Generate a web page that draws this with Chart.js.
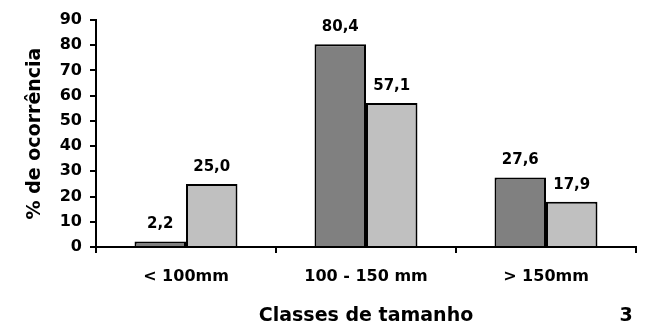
<!DOCTYPE html>
<html>
<head>
<meta charset="utf-8">
<script src="https://cdn.jsdelivr.net/npm/chart.js@4"></script>
<style>
  html, body { margin: 0; padding: 0; background: #fff; }
  #wrap { width: 647px; height: 327px; }
</style>
</head>
<body>
<div id="wrap"><canvas id="sizeChart" width="647" height="327"></canvas></div>
<script>
const classes = ['< 100mm', '100 - 150 mm', '> 150mm'];
const seriesDark = [2.2, 80.4, 27.6];
const seriesLight = [25.0, 57.1, 17.9];
const yTicks = [0, 10, 20, 30, 40, 50, 60, 70, 80, 90];

Chart.defaults.font.family = "'DejaVu Sans', sans-serif";
Chart.defaults.font.weight = 'bold';
Chart.defaults.color = '#000';

// value labels above bars, decimal comma
const valueLabels = {
    id: 'valueLabels',
    afterDatasetsDraw(chart) {
        const ctx = chart.ctx;
        ctx.save();
        ctx.font = "bold 15px 'DejaVu Sans', sans-serif";
        ctx.fillStyle = '#000';
        ctx.textAlign = 'center';
        ctx.textBaseline = 'alphabetic';
        chart.data.datasets.forEach((ds, i) => {
            chart.getDatasetMeta(i).data.forEach((bar, j) => {
                const txt = ds.data[j].toFixed(1).replace('.', ',');
                ctx.fillText(txt, bar.x, bar.y - 13);
            });
        });
        ctx.restore();
    }
};

// figure number at bottom right
const figNumber = {
    id: 'figNumber',
    afterDraw(chart) {
        const ctx = chart.ctx;
        ctx.save();
        ctx.font = "bold 19px 'DejaVu Sans', sans-serif";
        ctx.fillStyle = '#000';
        ctx.textAlign = 'center';
        ctx.textBaseline = 'middle';
        ctx.fillText('3', 626, 316.5);
        ctx.restore();
    }
};

const sizeCtx = document.getElementById('sizeChart').getContext('2d');
new Chart(sizeCtx, {
    type: 'bar',
    data: {
        labels: classes,
        datasets: [
            {
                data: seriesDark,
                backgroundColor: '#808080',
                borderColor: '#000',
                borderWidth: 2
            },
            {
                data: seriesLight,
                backgroundColor: '#C0C0C0',
                borderColor: '#000',
                borderWidth: 2
            }
        ]
    },
    options: {
        responsive: false,
        animation: false,
        categoryPercentage: 0.572,
        barPercentage: 1,
        layout: {
            padding: { top: 20, right: 11, bottom: 0, left: 0 }
        },
        plugins: {
            legend: { display: false },
            tooltip: { enabled: false }
        },
        scales: {
            x: {
                afterFit(axis) { axis.height = 80; },
                grid: {
                    offset: true,
                    drawOnChartArea: false,
                    tickLength: 6,
                    color: '#000',
                    lineWidth: 2
                },
                border: { color: '#000', width: 2 },
                ticks: {
                    padding: 14,
                    font: { size: 16, weight: 'bold' }
                },
                title: {
                    display: true,
                    text: 'Classes de tamanho',
                    font: { size: 19, weight: 'bold', lineHeight: 1 },
                    padding: { top: 0, bottom: 1 }
                }
            },
            y: {
                min: 0,
                max: 90,
                afterFit(axis) { axis.width = 96; },
                afterBuildTicks(axis) {
                    axis.ticks = yTicks.map(v => ({ value: v }));
                },
                grid: {
                    drawOnChartArea: false,
                    tickLength: 6,
                    color: '#000',
                    lineWidth: 2
                },
                border: { color: '#000', width: 2 },
                ticks: {
                    padding: 8,
                    font: { size: 16, weight: 'bold' }
                },
                title: {
                    display: true,
                    text: '% de ocorrência',
                    font: { size: 19, weight: 'bold', lineHeight: 1.2 },
                    padding: { top: 24, bottom: 0 }
                }
            }
        }
    },
    plugins: [valueLabels, figNumber]
});
</script>
</body>
</html>
